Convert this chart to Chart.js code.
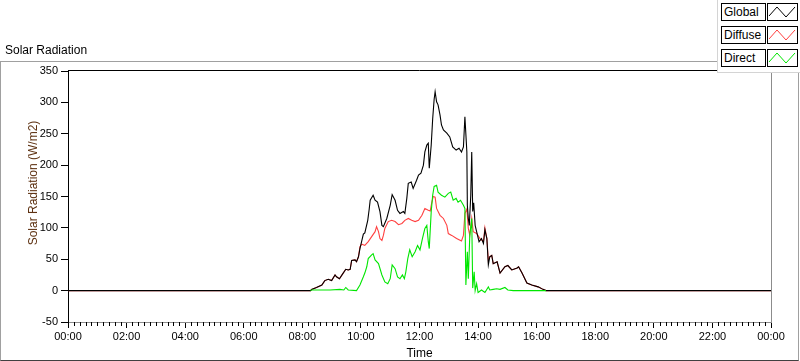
<!DOCTYPE html>
<html><head><meta charset="utf-8">
<script src="https://cdn.jsdelivr.net/npm/chart.js@4.4.1/dist/chart.umd.min.js"></script>
<style>
html,body{margin:0;padding:0;background:#fff;}
body{width:800px;height:361px;overflow:hidden;font-family:"Liberation Sans",Arial,sans-serif;}
#wrap{position:relative;width:800px;height:361px;}
#frame{position:absolute;left:0;top:61px;width:797px;height:298px;border:1px solid #a0a0a0;border-bottom-color:#404040;box-sizing:content-box;}
#c{position:absolute;left:0;top:0;}
#title{position:absolute;left:5px;top:43px;font-size:12px;color:#000;white-space:nowrap;}
#ytitle{position:absolute;left:-67px;top:176px;width:200px;text-align:center;font-size:12px;color:#5e3212;transform:rotate(-90deg);white-space:nowrap;}
#legend{position:absolute;left:717px;top:0;width:82px;height:72px;background:#fff;border-left:1px solid #d4d4d4;border-bottom:1px solid #d4d4d4;}
.lab{position:absolute;left:3px;width:41px;height:16px;border:1px solid #000;font-size:12px;line-height:16px;padding-left:2px;box-sizing:content-box;background:#fff;}
.ico{position:absolute;left:49px;width:29px;height:16px;border:1px solid #000;background:#fff;}
.ico svg{display:block;}
</style>
</head><body>
<div id="wrap">
  <div id="frame"></div>
  <canvas id="c" width="800" height="361"></canvas>
  <div id="title">Solar Radiation</div>
  <div id="ytitle">Solar Radiation (W/m2)</div>
  <div id="legend"></div>
</div>
<script>
// ---------- data ----------
const seriesNames = ['Global', 'Diffuse', 'Direct'];

const globalTimes = ['00:00','08:17','08:19','08:29','08:40','08:46','08:53','09:00','09:07','09:10','09:16','09:23','09:29','09:34','09:38','09:41','09:48','09:51','09:55','09:58','10:02','10:05','10:08','10:14','10:17','10:19','10:25','10:29','10:34','10:39','10:43','10:46','10:53','11:00','11:04','11:10','11:15','11:20','11:27','11:30','11:34','11:37','11:43','11:47','11:54','11:58','12:03','12:08','12:11','12:15','12:18','12:20','12:24','12:27','12:30','12:32','12:35','12:38','12:42','12:45','12:49','12:56','13:02','13:08','13:15','13:21','13:26','13:30','13:33','13:37','13:38','13:40','13:42','13:45','13:47','13:49','13:51','13:54','13:57','14:02','14:07','14:11','14:14','14:18','14:21','14:24','14:28','14:31','14:39','14:45','14:55','15:01','15:09','15:20','15:23','15:30','15:40','15:50','16:03','16:13','16:19','24:00'];
const globalValues = [0,0,2,5,9,16,18,16,25,22,19,27,34,33,34,48,49,46,54,67,80,90,92,112,130,144,152,144,141,126,104,102,115,136,153,144,128,123,126,123,147,171,173,163,176,184,187,200,221,232,235,195,232,274,305,317,301,296,280,264,256,251,245,229,224,227,221,229,277,221,136,115,104,152,221,126,140,104,94,78,83,75,97,83,41,54,56,43,46,28,38,40,33,36,38,28,12,9,6,2,0,0];

const diffuseTimes = ['00:00','08:17','08:19','08:29','08:40','08:46','08:53','09:00','09:07','09:10','09:16','09:23','09:29','09:34','09:38','09:41','09:48','09:51','09:55','09:58','10:02','10:08','10:15','10:22','10:29','10:32','10:36','10:39','10:43','10:46','10:49','10:56','11:03','11:10','11:17','11:24','11:30','11:37','11:44','11:51','11:58','12:05','12:11','12:18','12:22','12:25','12:28','12:32','12:35','12:42','12:49','12:56','12:59','13:06','13:16','13:26','13:30','13:33','13:37','13:40','13:43','13:47','13:50','13:57','14:04','14:11','14:14','14:18','14:21','14:24','14:28','14:31','14:39','14:45','14:55','15:01','15:09','15:20','15:23','15:30','15:40','15:50','16:03','16:13','16:19','24:00'];
const diffuseValues = [0,0,2,5,9,16,18,16,25,22,19,27,34,33,34,48,49,46,54,70,74,72,78,86,94,102,94,83,80,88,99,110,112,110,105,107,112,115,112,110,112,120,131,128,127,140,150,149,131,120,115,104,91,88,83,79,88,123,130,99,88,115,94,91,83,78,100,83,48,54,56,43,46,28,38,40,33,36,38,28,12,9,6,2,0,0];

const directTimes = ['08:17','08:19','08:57','09:17','09:25','09:29','09:34','09:51','09:58','10:05','10:08','10:12','10:15','10:22','10:25','10:29','10:36','10:43','10:49','10:55','11:00','11:04','11:10','11:15','11:20','11:25','11:29','11:32','11:36','11:40','11:45','11:51','11:56','12:01','12:06','12:11','12:15','12:18','12:20','12:24','12:27','12:30','12:35','12:38','12:45','12:52','12:59','13:04','13:09','13:15','13:19','13:24','13:30','13:33','13:35','13:38','13:40','13:43','13:47','13:49','13:52','13:54','13:57','14:00','14:07','14:14','14:21','14:24','14:31','14:38','14:45','14:55','15:01','15:12','16:19'];
const directValues = [0,1,1,2,1,5,1,0,9,22,28,38,51,57,59,49,43,25,14,11,19,41,35,22,19,25,19,30,51,65,54,62,72,65,83,99,104,78,67,126,152,166,168,157,152,149,155,157,144,147,141,144,136,131,9,62,19,88,115,4,30,0,11,-3,1,-3,6,1,2,3,2,5,1,0,0];

const yTicks = {min: -50, max: 350, step: 50};
const xTicks = {min: 0, max: 1440, step: 120, minorStep: 12};

// ---------- helpers ----------
const toMin = s => { const [h, m] = s.split(':').map(Number); return h * 60 + m; };
const fmt = v => { const t = Math.round(v) % 1440; const h = Math.floor(t / 60), m = t % 60; return String(h).padStart(2,'0') + ':' + String(m).padStart(2,'0'); };
const pts = (ts, vs) => ts.map((t, i) => ({x: toMin(t), y: vs[i]}));

const colors = {Global: '#000000', Diffuse: '#ff4040', Direct: '#00e600'};
const FONT = '"Liberation Sans", Arial, sans-serif';

// legend (HTML)
const legend = document.getElementById('legend');
seriesNames.forEach((n, i) => {
  const top = 3 + i * 23;
  const lab = document.createElement('div');
  lab.className = 'lab'; lab.style.top = top + 'px'; lab.textContent = n;
  const ico = document.createElement('div');
  ico.className = 'ico'; ico.style.top = top + 'px';
  ico.innerHTML = '<svg width="29" height="16"><polyline points="1,12 9,3 18,13 27,3" fill="none" stroke="' + colors[n] + '" stroke-width="1"/></svg>';
  legend.appendChild(lab); legend.appendChild(ico);
});

const framePlugin = {
  id: 'frameLines',
  afterDraw(chart) {
    const {ctx, chartArea: a, scales: {x}} = chart;
    ctx.save();
    ctx.lineWidth = 1;
    ctx.strokeStyle = '#000';
    ctx.beginPath(); ctx.moveTo(a.left, a.top - 0.5); ctx.lineTo(a.right, a.top - 0.5); ctx.stroke();
    ctx.strokeStyle = '#8c8c8c';
    ctx.beginPath(); ctx.moveTo(a.right + 0.5, a.top); ctx.lineTo(a.right + 0.5, a.bottom); ctx.stroke();
    // minor ticks
    ctx.strokeStyle = '#000';
    ctx.beginPath();
    for (let m = xTicks.min; m <= xTicks.max; m += xTicks.minorStep) {
      if (m % xTicks.step === 0) continue;
      const px = Math.round(x.getPixelForValue(m)) + 0.5;
      ctx.moveTo(px, a.bottom); ctx.lineTo(px, a.bottom + 4);
    }
    ctx.stroke();
    ctx.restore();
  }
};

new Chart(document.getElementById('c'), {
  type: 'line',
  data: {
    datasets: [
      {label: 'Global', data: pts(globalTimes, globalValues), borderColor: colors.Global, order: 1},
      {label: 'Diffuse', data: pts(diffuseTimes, diffuseValues), borderColor: colors.Diffuse, order: 2},
      {label: 'Direct', data: pts(directTimes, directValues), borderColor: colors.Direct, order: 0}
    ].map(d => Object.assign(d, {borderWidth: 1.1, pointRadius: 0, tension: 0, fill: false}))
  },
  options: {
    responsive: false, animation: false, devicePixelRatio: 1,
    layout: {padding: {left: 0, top: 71, right: 29, bottom: 0}},
    plugins: {legend: {display: false}, tooltip: {enabled: false}, title: {display: false}},
    scales: {
      x: {
        type: 'linear', min: xTicks.min, max: xTicks.max,
        ticks: {stepSize: xTicks.step, autoSkip: false, maxRotation: 0, color: '#000', padding: 2,
                font: {family: FONT, size: 11}, callback: v => fmt(v)},
        grid: {drawOnChartArea: false, drawTicks: true, tickLength: 6, color: '#000'},
        border: {display: true, color: '#8c8c8c'},
        title: {display: true, text: 'Time', color: '#000', font: {family: FONT, size: 12}, padding: {top: 0, bottom: 0}},
        afterFit: s => { s.height = 39; }
      },
      y: {
        min: yTicks.min, max: yTicks.max,
        ticks: {stepSize: yTicks.step, color: '#000', padding: 3, font: {family: FONT, size: 11}},
        grid: {drawOnChartArea: false, drawTicks: true, tickLength: 7, color: '#000'},
        border: {display: true, color: '#000'},
        afterFit: s => { s.width = 68; }
      }
    }
  },
  plugins: [framePlugin]
});
</script>
</body></html>
